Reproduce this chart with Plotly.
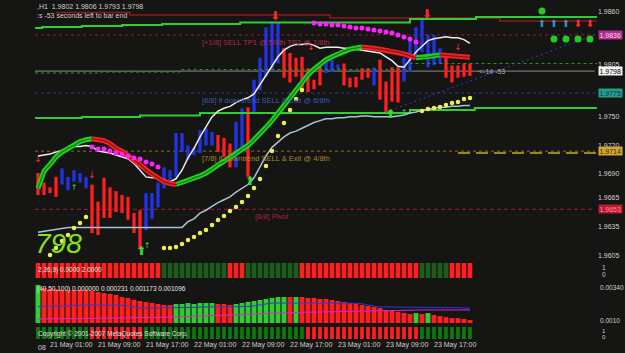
import plotly.graph_objects as go

# ---------------- data (hourly bars, index 0 = 20 May 23:00) ----------------
bar_high = [1.9691, 1.9681, 1.9676, 1.9687, 1.9696, 1.9687, 1.9694, 1.9691, 1.9687, 1.9679,
            1.9661, 1.9686, 1.9676, 1.9672, 1.9668, 1.9666, 1.9649, 1.9652, 1.9670, 1.9670,
            1.9681, 1.9697, 1.9694, 1.9733, 1.9733, 1.9720, 1.9718, 1.9736, 1.9738, 1.9734,
            1.9731, 1.9728, 1.9722, 1.9745, 1.9759, 1.9760, 1.9789, 1.9812, 1.9844, 1.9850,
            1.9849, 1.9822, 1.9817, 1.9812, 1.9813, 1.9801, 1.9789, 1.9804, 1.9810, 1.9810,
            1.9805, 1.9806, 1.9791, 1.9792, 1.9801, 1.9801, 1.9802, 1.9810, 1.9787, 1.9802,
            1.9802, 1.9812, 1.9831, 1.9844, 1.9852, 1.9836, 1.9836, 1.9822, 1.9813, 1.9804,
            1.9804, 1.9806, 1.9806]
bar_low = [1.9668, 1.9668, 1.9670, 1.9666, 1.9679, 1.9673, 1.9682, 1.9681, 1.9675, 1.9628,
           1.9626, 1.9644, 1.9644, 1.9650, 1.9649, 1.9642, 1.9628, 1.9611, 1.9631, 1.9643,
           1.9655, 1.9675, 1.9684, 1.9687, 1.9713, 1.9705, 1.9710, 1.9712, 1.9720, 1.9720,
           1.9713, 1.9708, 1.9697, 1.9697, 1.9718, 1.9687, 1.9754, 1.9778, 1.9792, 1.9799,
           1.9806, 1.9791, 1.9786, 1.9792, 1.9780, 1.9776, 1.9779, 1.9783, 1.9796, 1.9797,
           1.9800, 1.9783, 1.9781, 1.9781, 1.9789, 1.9791, 1.9783, 1.9768, 1.9755, 1.9766,
           1.9765, 1.9787, 1.9797, 1.9812, 1.9818, 1.9802, 1.9804, 1.9806, 1.9791, 1.9786,
           1.9791, 1.9792, 1.9793]
bar_dir = list("dddd" "uuuuu" "ddddddddd" "uuuuuuuuuuuu" "ddd" "uu" "d" "uuuuu"
               "ddddddd" "uuu" "ddddd" "u" "dddd" "uuuuuuu" "ddddd")

ma_thick = [1.9675, 1.9693, 1.9700, 1.9708, 1.9713, 1.9717, 1.9720, 1.9724, 1.9726, 1.9727,
            1.9726, 1.9725, 1.9722, 1.9717, 1.9714, 1.9709, 1.9705, 1.9700, 1.9694, 1.9690,
            1.9686, 1.9682, 1.9680, 1.9679, 1.9681, 1.9683, 1.9686, 1.9688, 1.9691, 1.9695,
            1.9700, 1.9703, 1.9707, 1.9711, 1.9716, 1.9720, 1.9726, 1.9732, 1.9739, 1.9746,
            1.9754, 1.9762, 1.9771, 1.9779, 1.9787, 1.9794, 1.9800, 1.9805, 1.9810, 1.9813,
            1.9816, 1.9819, 1.9821, 1.98222, 1.98233, 1.98230, 1.9822, 1.9821, 1.9820, 1.9819,
            1.9818, 1.9816, 1.9814, 1.9812, 1.98123, 1.98128, 1.9814, 1.9815, 1.98144, 1.98138,
            1.98133, 1.98128, 1.98125]
ma_white = [1.9709, 1.9710, 1.9711, 1.9713, 1.9715, 1.9717, 1.9719, 1.9719, 1.9720, 1.9719,
            1.9714, 1.9713, 1.9712, 1.9710, 1.9708, 1.9706, 1.9701, 1.9694, 1.9687, 1.9686,
            1.9686, 1.9684, 1.9682, 1.9685, 1.9694, 1.9707, 1.9717, 1.9729, 1.9739, 1.9750,
            1.9756, 1.9759, 1.9761, 1.9765, 1.9768, 1.9770, 1.9774, 1.9784, 1.9794, 1.9803,
            1.9813, 1.9820, 1.9824, 1.9826, 1.9826, 1.9827, 1.9825, 1.9822, 1.9823, 1.9823,
            1.9823, 1.9822, 1.9822, 1.9821, 1.9820, 1.9819, 1.9818, 1.9817, 1.9813, 1.9809,
            1.9803, 1.9802, 1.9810, 1.9818, 1.9824, 1.9830, 1.9832, 1.9833, 1.9834, 1.9833,
            1.9833, 1.9831, 1.9827]
ma_lower = [1.9629, 1.9630, 1.9631, 1.9632, 1.9633, 1.9634, 1.9634, 1.9634, 1.9634, 1.9634,
            1.9634, 1.9634, 1.9634, 1.9634, 1.9634, 1.9634, 1.9634, 1.9634, 1.9634, 1.9634,
            1.9634, 1.9634, 1.9634, 1.9634, 1.9634, 1.9640, 1.9643, 1.9649, 1.9652, 1.9656,
            1.9660, 1.9663, 1.9666, 1.9671, 1.9675, 1.9679, 1.9686, 1.9698, 1.9709, 1.9718,
            1.9724, 1.9729, 1.9733, 1.9735, 1.9738, 1.9741, 1.9744, 1.9746, 1.9748, 1.9748,
            1.9749, 1.9749, 1.9750, 1.9750, 1.9751, 1.9751, 1.9750, 1.9750, 1.9750, 1.9750,
            1.9751, 1.9752, 1.9754, 1.9755, 1.9757, 1.9758, 1.9759, 1.9760, 1.9760, 1.9761,
            1.9761, 1.9762, 1.9762]

sar_up_idx = [2, 3, 4, 5, 6, 7, 8,
              21, 22, 23, 24, 25, 26, 27, 28, 29, 30, 31, 32, 33, 34, 35, 36, 37, 38, 39, 40, 41, 42, 43, 44,
              64, 65, 66, 67, 68, 69, 70, 71, 72]
sar_up_val = [1.96050, 1.96124, 1.96197, 1.96260, 1.96333, 1.96386, 1.96449,
              1.96124, 1.96124, 1.96134, 1.96166, 1.96208, 1.96239, 1.96281, 1.96312, 1.96365, 1.96418,
              1.96459, 1.96512, 1.96554, 1.96606, 1.96669, 1.96753, 1.96848, 1.96984, 1.97141, 1.97299,
              1.97435, 1.97572, 1.97687, 1.97782,
              1.97561, 1.97582, 1.97593, 1.97603, 1.97624, 1.97645, 1.97656, 1.97687, 1.97698]
sar_dn_idx = [9, 10, 11, 12, 13, 14, 15, 16, 17, 18, 19, 20,
              46, 47, 48, 49, 50, 51, 52, 53, 54, 55, 56, 57, 58, 59, 60, 61, 62, 63]
sar_dn_val = [1.97183, 1.97162, 1.97162, 1.97141, 1.97120, 1.97110, 1.97089, 1.97068, 1.97058, 1.97026,
              1.97005, 1.96973,
              1.98485, 1.98474, 1.98474, 1.98464, 1.98464, 1.98453, 1.98443, 1.98432, 1.98432, 1.98422,
              1.98411, 1.98401, 1.98390, 1.98380, 1.98359, 1.98338, 1.98317, 1.98285]

# stepped channel lines: (bar index of step, level)
top_green_x = [-0.5, 0.7, 7.3, 14, 20.7, 33.7, 62, 73, 93.2]
top_green_y = [1.98432, 1.98443, 1.98453, 1.98464, 1.98474, 1.98490, 1.98527, 1.98548, 1.98548]
top_red_x = [3, 15.3, 48.7, 77, 93.2]
top_red_y = [1.98595, 1.98569, 1.98537, 1.98506, 1.98506]
bot_green_x = [-0.5, 7.3, 17, 27, 62, 72.8, 93.2]
bot_green_y = [1.97488, 1.97498, 1.97514, 1.97540, 1.97572, 1.97593, 1.97593]
mid_dash_x = [-0.5, 10.3, 23.7, 62, 93.2]
mid_dash_y = [1.97960, 1.97970, 1.97997, 1.98060, 1.98060]
trend_x = [58, 92.8]
trend_y = [1.9755, 1.9836]
olive_x = [70, 93]
olive_y = [1.9712, 1.9712]

murrey_levels = [1.9836, 1.9775, 1.9714, 1.9653]
murrey_names = ["[+1/8] SELL TP1 @ 5/8th TP2 @ 2/8th",
                "[8/8] if downtrend SELL & Exit @ 6/8th",
                "[7/8] if downtrend SELL & Exit @ 4/8th",
                "[6/8] Pivot"]
murrey_label_idx = [27, 27, 27, 35.8]
current_price = 1.9798

arrows_small_red = ([0, 9, 45.5, 70], [1.9705, 1.9688, 1.9822, 1.9823])
arrows_big_red = ([39.5, 64.8], [1.9855, 1.9857])
arrows_small_green = ([6, 18.2, 61], [1.9675, 1.9614, 1.9754])
arrows_big_green = ([17.2, 35.3, 58.7], [1.9608, 1.9682, 1.9752])
signal_idx = [84, 86, 88, 90, 92]
signal_dir = ["u", "u", "u", "d", "d"]
signal_arrow_val = 1.98464
signal_dot_top = (84, 1.98611)
signal_dot_row = ([86, 88, 90, 92], 1.98317)

# sub-window 1 (2,26,9) colour flags
sub1_flag = list("r" * 21 + "g" * 11 + "r" * 3 + "g" * 9 + "r" * 20 + "g" * 5 + "r" * 4)
# sub-window 2 (40,50,100) histogram + two lines
sub2_hist = [0.00354, 0.00333, 0.00327, 0.00327, 0.00320, 0.00320, 0.00320, 0.00320, 0.00320, 0.00313,
             0.00306, 0.00299, 0.00293, 0.00286, 0.00272, 0.00266, 0.00252, 0.00245, 0.00239, 0.00232,
             0.00225, 0.00218, 0.00218, 0.00225, 0.00225, 0.00232, 0.00225, 0.00232, 0.00232, 0.00232,
             0.00225, 0.00225, 0.00218, 0.00225, 0.00232, 0.00239, 0.00245, 0.00252, 0.00259, 0.00266,
             0.00272, 0.00272, 0.00272, 0.00272, 0.00272, 0.00266, 0.00266, 0.00259, 0.00259, 0.00252,
             0.00245, 0.00239, 0.00232, 0.00225, 0.00218, 0.00212, 0.00205, 0.00198, 0.00184, 0.00178,
             0.00171, 0.00164, 0.00158, 0.00164, 0.00158, 0.00164, 0.00151, 0.00144, 0.00137, 0.00130,
             0.00130, 0.00124, 0.00117]
sub2_flag = list("g" + "r" * 22 + "g" * 7 + "r" * 3 + "g" * 9 + "r" + "g" + "r" * 19 + "g" + "r" + "g" + "r" * 7)
sub2_blue = [0.00208, 0.00208, 0.00208, 0.00208, 0.00210, 0.00212, 0.00215, 0.00218, 0.00218, 0.00218,
             0.00218, 0.00218, 0.00218, 0.00218, 0.00216, 0.00212, 0.00205, 0.00200, 0.00198, 0.00198,
             0.00198, 0.00198, 0.00198, 0.00198, 0.00198, 0.00200, 0.00202, 0.00205, 0.00205, 0.00205,
             0.00205, 0.00205, 0.00205, 0.00205, 0.00205, 0.00208, 0.00212, 0.00220, 0.00228, 0.00232,
             0.00232, 0.00232, 0.00232, 0.00232, 0.00232, 0.00232, 0.00232, 0.00232, 0.00232, 0.00232,
             0.00232, 0.00232, 0.00232, 0.00230, 0.00226, 0.00220, 0.00212, 0.00205, 0.00205, 0.00205,
             0.00205, 0.00205, 0.00205, 0.00205, 0.00205, 0.00205, 0.00205, 0.00205, 0.00205, 0.00204,
             0.00200, 0.00198, 0.00198]
sub2_pink = [0.00124, 0.00124, 0.00124, 0.00124, 0.00124, 0.00125, 0.00125, 0.00126, 0.00127, 0.00128,
             0.00129, 0.00130, 0.00130, 0.00130, 0.00131, 0.00131, 0.00132, 0.00132, 0.00133, 0.00134,
             0.00135, 0.00136, 0.00137, 0.00138, 0.00139, 0.00141, 0.00143, 0.00145, 0.00147, 0.00148,
             0.00149, 0.00150, 0.00151, 0.00152, 0.00154, 0.00156, 0.00158, 0.00160, 0.00162, 0.00164,
             0.00165, 0.00166, 0.00167, 0.00168, 0.00169, 0.00170, 0.00171, 0.00171, 0.00172, 0.00173,
             0.00174, 0.00175, 0.00176, 0.00177, 0.00178, 0.00179, 0.00180, 0.00181, 0.00182, 0.00183,
             0.00184, 0.00185, 0.00185, 0.00185, 0.00185, 0.00185, 0.00185, 0.00185, 0.00185, 0.00185,
             0.00185, 0.00185, 0.00185]
# sub-window 3 colour flags
sub3_flag = list("g" * 9 + "r" * 9 + "g" * 27 + "r" * 19 + "g" * 9)

time_idx = [2, 10, 18, 26, 34, 42, 50, 58, 66]
time_txt = ["21 May 01:00", "21 May 09:00", "21 May 17:00", "22 May 01:00", "22 May 09:00",
            "22 May 17:00", "23 May 01:00", "23 May 09:00", "23 May 17:00"]
price_ticks = [1.9860, 1.9805, 1.9750, 1.9720, 1.9690, 1.9665, 1.9635, 1.9605]

header_main = ",H1  1.9802 1.9806 1.9793 1.9798"
header_timer = ":s -53 seconds left to bar end"
header_sub1 = "2,26,9) 0.0000 2.0000"
header_sub2 = "(40,50,100) 0.000000 0.000231 0.001173 0.001096"
footer_copy = "Copyright © 2001-2007 MetaQuotes Software Corp."

# ---------------- layout helpers ----------------
W, H = 625, 353
ML, MR, MT, MB = 35, 28, 0, 11
PW, PH = W - ML - MR, H - MT - MB
FONT = "Liberation Sans, Arial, sans-serif"
BG = "#151513"
TXT = "#cfcfcf"
RED = "#ff1f1f"
BLUE = "#2233e6"


def fx(px):
    return (px - ML) / PW


def fy(py):
    return 1 - (py - MT) / PH


n = len(bar_high)
idx = list(range(n))
fig = go.Figure()

# horizontal Murrey levels and current price line
murrey_cols = ["#8e1d3a", "#2b3c92", "#8f6d1c", "#a01c3c"]
murrey_dash = ["3px,3px", "3px,3px", "3px,3px", "4px,3px"]
for lv, c, d in zip(murrey_levels, murrey_cols, murrey_dash):
    fig.add_shape(type="line", xref="x", yref="y", x0=-0.5, x1=92.8, y0=lv, y1=lv,
                  line=dict(color=c, width=1, dash=d), layer="below")
fig.add_shape(type="line", xref="x", yref="y", x0=-0.5, x1=92.8, y0=current_price, y1=current_price,
              line=dict(color="#8c8c8c", width=1), layer="below")

# channel lines
fig.add_trace(go.Scatter(x=mid_dash_x, y=mid_dash_y, mode="lines", line=dict(color="#1f9d1f", width=1, dash="3px,3px", shape="hv")))
fig.add_trace(go.Scatter(x=top_red_x, y=top_red_y, mode="lines", line=dict(color="#8f1a1a", width=1.5, shape="hv")))
fig.add_trace(go.Scatter(x=top_green_x, y=top_green_y, mode="lines", line=dict(color="#2ed02e", width=2, shape="hv")))
fig.add_trace(go.Scatter(x=bot_green_x, y=bot_green_y, mode="lines", line=dict(color="#2ed02e", width=2, shape="hv")))
fig.add_trace(go.Scatter(x=olive_x, y=olive_y, mode="lines", line=dict(color="#8e8e12", width=2, dash="12px,6px")))
fig.add_trace(go.Scatter(x=trend_x, y=trend_y, mode="lines", line=dict(color="#2a3ad8", width=1, dash="2px,3px")))

# price bars
fig.add_trace(go.Bar(x=idx, y=[h - l for h, l in zip(bar_high, bar_low)], base=bar_low, width=0.55,
                     marker=dict(color=[RED if d == "d" else BLUE for d in bar_dir], line=dict(width=0))))

# envelope lines
fig.add_trace(go.Scatter(x=idx, y=ma_lower, mode="lines", line=dict(color="#a6c4d4", width=1.5)))
fig.add_trace(go.Scatter(x=idx, y=ma_white, mode="lines", line=dict(color="#ececec", width=1.5)))


def segments(vals, want_up):
    xs, ys = [], []
    for k in range(1, len(vals)):
        up = vals[k] >= vals[k - 1]
        if up != want_up:
            continue
        if xs and xs[-1] == k - 1:
            xs.append(k)
            ys.append(vals[k])
        else:
            if xs:
                xs.append(None)
                ys.append(None)
            xs += [k - 1, k]
            ys += [vals[k - 1], vals[k]]
    return xs, ys


gx, gy = segments(ma_thick, True)
rx, ry = segments(ma_thick, False)
fig.add_trace(go.Scatter(x=gx, y=gy, mode="lines", line=dict(color="#22d022", width=5)))
fig.add_trace(go.Scatter(x=gx, y=gy, mode="lines", line=dict(color="#0e7a0e", width=1.2)))
fig.add_trace(go.Scatter(x=rx, y=ry, mode="lines", line=dict(color="#f02222", width=5)))
fig.add_trace(go.Scatter(x=rx, y=ry, mode="lines", line=dict(color="#8e1010", width=1.2)))

# SAR dots
fig.add_trace(go.Scatter(x=sar_up_idx, y=sar_up_val, mode="markers", marker=dict(color="#eeee55", size=4.5, line=dict(width=0))))
fig.add_trace(go.Scatter(x=sar_dn_idx, y=sar_dn_val, mode="markers", marker=dict(color="#ff22ff", size=5, line=dict(width=0))))


# arrows
def arrow_trace(pts, sym, color, size):
    return go.Scatter(x=pts[0], y=pts[1], mode="text", text=[sym] * len(pts[0]),
                      textfont=dict(color=color, size=size, family="DejaVu Sans"), cliponaxis=False)


fig.add_trace(arrow_trace(arrows_small_red, "↓", "#ff2a2a", 9))
fig.add_trace(arrow_trace(arrows_big_red, "⬇", "#ff2a2a", 12))
fig.add_trace(arrow_trace(arrows_small_green, "↑", "#2ee02e", 8))
fig.add_trace(arrow_trace(arrows_big_green, "⬆", "#2ee02e", 12))
fig.add_trace(go.Scatter(x=signal_idx, y=[signal_arrow_val] * len(signal_idx), mode="text",
                         text=["⬆" if d == "u" else "⬇" for d in signal_dir],
                         textfont=dict(color=["#3d8ad0" if d == "u" else "#ff3030" for d in signal_dir],
                                       size=10, family="DejaVu Sans"), cliponaxis=False))
fig.add_trace(go.Scatter(x=[signal_dot_top[0]] + signal_dot_row[0],
                         y=[signal_dot_top[1]] + [signal_dot_row[1]] * len(signal_dot_row[0]),
                         mode="markers", marker=dict(color="#22cc22", size=7, line=dict(width=0))))

# sub-window 1
fig.add_trace(go.Bar(x=idx, y=[1] * n, width=0.78, xaxis="x", yaxis="y2",
                     marker=dict(color=[RED if f == "r" else "#1e5c1e" for f in sub1_flag], line=dict(width=0))))
# sub-window 2
fig.add_trace(go.Bar(x=idx, y=sub2_hist, width=0.82, xaxis="x", yaxis="y3",
                     marker=dict(color=[RED if f == "r" else "#33cc33" for f in sub2_flag], line=dict(width=0))))
fig.add_trace(go.Scatter(x=idx, y=sub2_blue, mode="lines", xaxis="x", yaxis="y3", line=dict(color="#2a3ae0", width=1)))
fig.add_trace(go.Scatter(x=idx, y=sub2_pink, mode="lines", xaxis="x", yaxis="y3", line=dict(color="#e020e0", width=1)))
# sub-window 3
fig.add_trace(go.Bar(x=idx, y=[1] * n, width=0.62, xaxis="x", yaxis="y4",
                     marker=dict(color=[RED if f == "r" else "#0c7a0c" for f in sub3_flag], line=dict(width=0))))

# ---------------- annotations ----------------
ann = []


def txt(x, y, s, color=TXT, size=7, xref="paper", yref="paper", xanchor="left", yanchor="middle", **kw):
    ann.append(dict(x=x, y=y, xref=xref, yref=yref, text=s, showarrow=False, xanchor=xanchor,
                    yanchor=yanchor, font=dict(family=FONT, size=size, color=color), **kw))


txt(fx(35), fy(6), header_main)
txt(fx(35), fy(15.5), header_timer)
label_cols = ["#b0284e", "#3a5ab6", "#a8862a", "#b02242"]
for lv, name, li, c in zip(murrey_levels, murrey_names, murrey_label_idx, label_cols):
    txt(li, lv, name, color=c, size=7.5, xref="x", yref="y", yanchor="top", yshift=-1)
txt(fx(33), fy(243), "<i>798</i>", color="#86e01e", size=28)
txt(73.2, current_price, "<-14 -53", color="#a8a8a8", size=7, xref="x", yref="y")
txt(fx(36), fy(270), header_sub1, color="#e8e8e8", size=6.5)
txt(fx(35), fy(289), header_sub2, color="#e8e8e8", size=6.5)
txt(fx(36), fy(334), footer_copy, color="#e0e0e0", size=6.5)
txt(fx(36), fy(347), "08", size=7)

# right-hand level boxes
box_style = [("#b02e8e", "#ffd0f0"), ("#22a07e", "#0c2a96"), ("#d2a634", "#3a2a00"), ("#c01a32", "#ff8aa0")]
for lv, (bg, fg) in zip(murrey_levels, box_style):
    ann.append(dict(x=fx(598), y=lv, xref="paper", yref="y", text=f"{lv:.4f}", showarrow=False, xanchor="left",
                    yanchor="middle", bgcolor=bg, borderpad=0.5, font=dict(family=FONT, size=7, color=fg)))
ann.append(dict(x=fx(598), y=current_price, xref="paper", yref="y", text=f"{current_price:.4f}", showarrow=False,
                xanchor="left", yanchor="middle", bgcolor="#f4f4f4", borderpad=0.5,
                font=dict(family=FONT, size=7, color="#000000")))
# sub-window scale labels
txt(fx(600), fy(267), "1", size=6.5)
txt(fx(600), fy(274), "0", size=6.5)
txt(fx(598), fy(287), "0.00340", size=6.5)
txt(fx(598), fy(320), "0.0010", size=6.5)
txt(fx(600), fy(331), "1", size=6)
txt(fx(600), fy(336.5), "0", size=6)

axis_off = dict(showgrid=False, zeroline=False, showline=False, showticklabels=False, ticks="", automargin=False)
fig.update_layout(
    width=W, height=H, margin=dict(l=ML, r=MR, t=MT, b=MB, pad=0, autoexpand=False),
    paper_bgcolor=BG, plot_bgcolor=BG, showlegend=False, barmode="overlay",
    annotations=ann,
    xaxis=dict(domain=[0, 1], range=[-0.5, 93.17], anchor="y4", showgrid=False, zeroline=False, showline=False,
               tickmode="array", tickvals=time_idx, ticktext=time_txt, ticks="", tickangle=0, automargin=False,
               ticklabelposition="outside right", tickfont=dict(family=FONT, size=7, color=TXT)),
    yaxis=dict(domain=[fy(258), 1], range=[1.96019, 1.98726], anchor="x", side="right", showgrid=False,
               zeroline=False, showline=False, ticks="", tickmode="array", tickvals=price_ticks, automargin=False,
               tickformat=".4f", tickfont=dict(family=FONT, size=7, color=TXT)),
    yaxis2=dict(domain=[fy(278), fy(263)], range=[0, 1], anchor="x", **axis_off),
    yaxis3=dict(domain=[fy(323), fy(284)], range=[0.00097, 0.0036], anchor="x", **axis_off),
    yaxis4=dict(domain=[fy(339), fy(327)], range=[0, 1], anchor="x", **axis_off),
)

fig.write_html("out.html")
